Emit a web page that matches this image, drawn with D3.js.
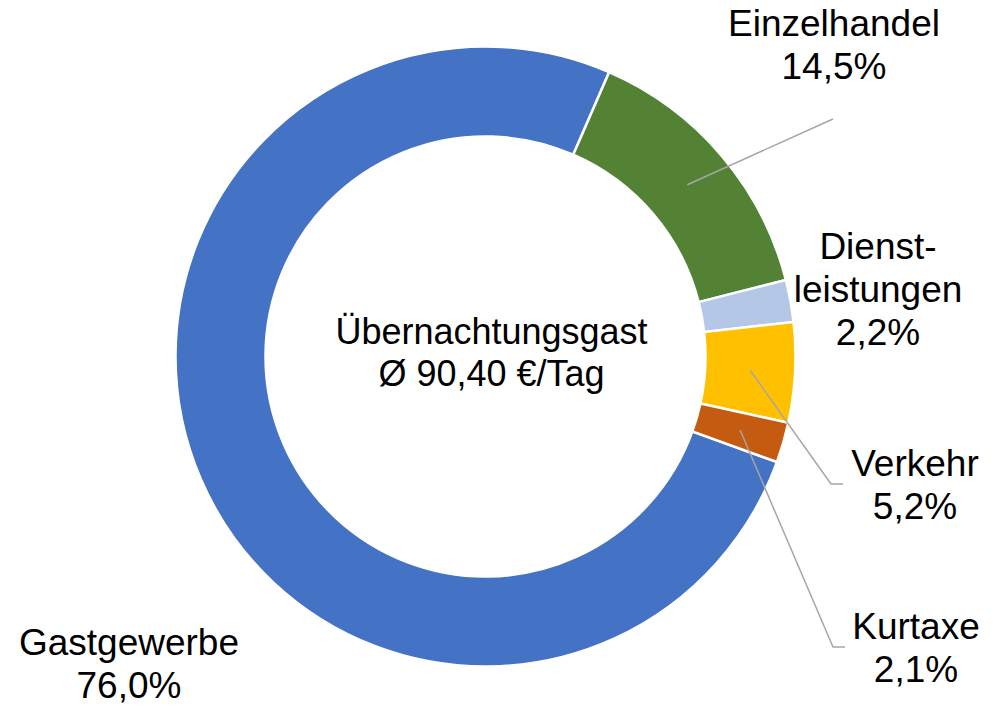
<!DOCTYPE html>
<html>
<head>
<meta charset="utf-8">
<script src="https://cdn.jsdelivr.net/npm/d3@7"></script>
<style>
  body { margin: 0; background: #fff; }
  svg { display: block; font-family: "Liberation Sans", Arial, sans-serif; }
</style>
</head>
<body>
<svg id="chart"></svg>
<script>
// Data (order as in the spreadsheet, drawn clockwise)
const categories = ["Gastgewerbe", "Einzelhandel", "Dienstleistungen", "Verkehr", "Kurtaxe"];
const shares = [76.0, 14.5, 2.2, 5.2, 2.1];
const labelLines = [
    ["Gastgewerbe"],
    ["Einzelhandel"],
    ["Dienst-", "leistungen"],
    ["Verkehr"],
    ["Kurtaxe"]
];
const centerText = ["Übernachtungsgast", "Ø 90,40 €/Tag"];
const colors = ["#4472C4", "#548235", "#B4C7E7", "#FFC000", "#C55A11"];

// Layout
const width = 998, height = 707;
const cx = 485.5, cy = 356.5;
const outerR = 310, innerR = 220;
const fontSize = 37, lineH = 43;

// where each label block sits (x centre, baseline of first line) and leader elbow
const labelPos = {
    "Gastgewerbe":      { x: 129, y: 655, leader: null },
    "Einzelhandel":     { x: 834, y: 36,  leader: [[833, 119]] },
    "Dienstleistungen": { x: 878, y: 259, leader: null },
    "Verkehr":          { x: 915, y: 476, leader: [[831, 484], [843, 484]] },
    "Kurtaxe":          { x: 916, y: 639, leader: [[833, 647], [845, 647]] }
};

const fmt = v => d3.format(".1f")(v).replace(".", ",") + "%";

const svg = d3.select("#chart")
    .attr("width", width)
    .attr("height", height);

const g = svg.append("g")
    .attr("transform", "translate(" + cx + "," + cy + ")");

const data = categories.map((c, i) => ({ name: c, value: shares[i], lines: labelLines[i], color: colors[i] }));

const startDeg = 109.9;
const pie = d3.pie()
    .sort(null)
    .value(d => d.value)
    .startAngle(startDeg * Math.PI / 180)
    .endAngle(startDeg * Math.PI / 180 + 2 * Math.PI);

const arc = d3.arc()
    .innerRadius(innerR)
    .outerRadius(outerR);

const arcs = pie(data);

// slices
g.selectAll("path.slice")
    .data(arcs)
    .enter().append("path")
    .attr("class", "slice")
    .attr("d", arc)
    .attr("fill", d => d.data.color)
    .attr("stroke", "#fff")
    .attr("stroke-width", 2.5);

// leader lines from slice centroid to label
arcs.forEach(a => {
    const pos = labelPos[a.data.name];
    if (!pos.leader) return;
    const c = arc.centroid(a);
    const pts = [[cx + c[0], cy + c[1]]].concat(pos.leader);
    svg.append("path")
        .attr("d", d3.line()(pts))
        .attr("fill", "none")
        .attr("stroke", "#A6A6A6")
        .attr("stroke-width", 1.5);
});

// labels
arcs.forEach(a => {
    const pos = labelPos[a.data.name];
    const lines = a.data.lines.concat([fmt(a.data.value)]);
    const t = svg.append("text")
        .attr("text-anchor", "middle")
        .attr("font-size", fontSize)
        .attr("fill", "#000");
    lines.forEach((l, i) => {
        t.append("tspan")
            .attr("x", pos.x)
            .attr("y", pos.y + i * lineH)
            .text(l);
    });
});

// centre text
const ct = svg.append("text")
    .attr("text-anchor", "middle")
    .attr("font-size", 36)
    .attr("fill", "#000");
centerText.forEach((l, i) => {
    ct.append("tspan")
        .attr("x", 491.5)
        .attr("y", 344 + i * 42)
        .text(l);
});
</script>
</body>
</html>
